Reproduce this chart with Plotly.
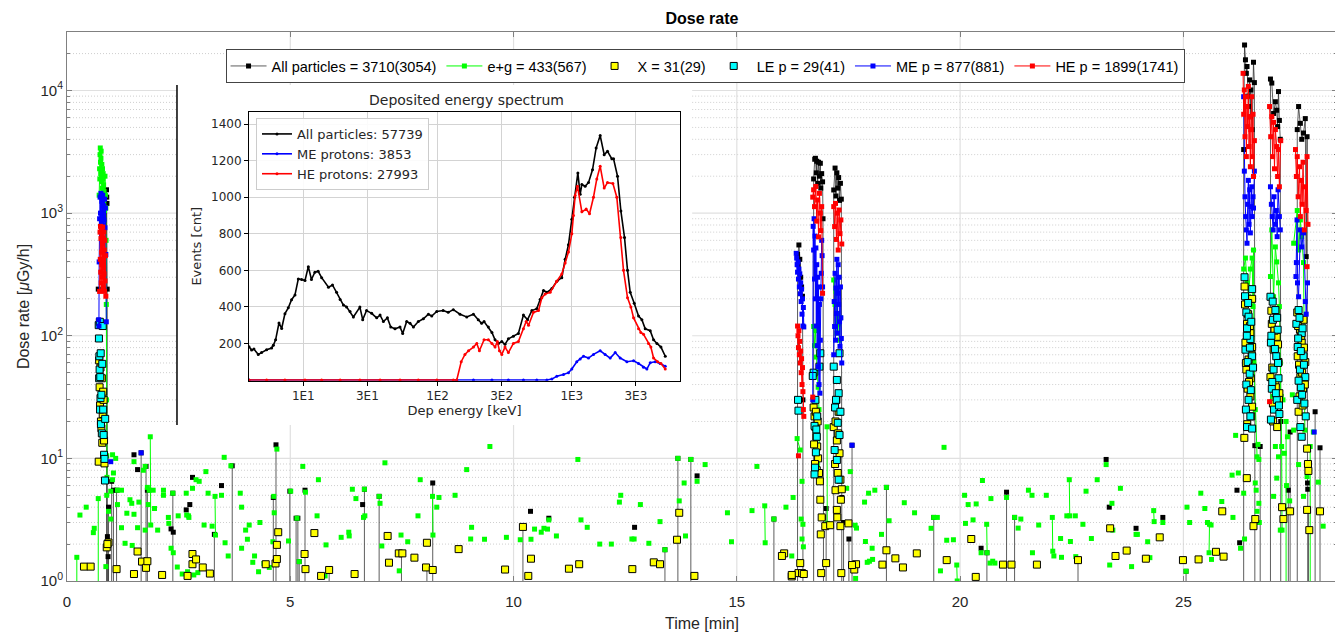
import plotly.graph_objects as go

# ------------------------------------------------------------------
# Main chart data: (time [min], dose rate [uGy/h])
# ------------------------------------------------------------------
FLOOR = 0.1  # readings that fall below the bottom of the axis

# All particles: burst segments (line drops below axis at both ends)
ALL_BURSTS = [
    [(0.885, 1550), (0.89, 1350), (0.895, 1200), (0.90, 240), (0.905, 2.3)],
    [(16.36, 460), (16.37, 380), (16.39, 550), (16.41, 420), (16.43, 300), (16.45, 250), (16.47, 210), (16.48, 30)],
    [(16.72, 1900), (16.745, 2750), (16.76, 2800), (16.78, 2130), (16.79, 2650), (16.81, 1750), (16.83, 2600),
     (16.85, 2000), (16.87, 2550), (16.88, 1600), (16.90, 2100), (16.92, 1800), (16.93, 900), (16.94, 3.3)],
    [(17.17, 1545), (17.20, 2330), (17.22, 1380), (17.24, 2130), (17.26, 1600), (17.28, 1950), (17.30, 1270),
     (17.32, 1750), (17.34, 1300), (17.35, 4.8)],
    [(26.35, 3300), (26.37, 23500), (26.39, 17800), (26.41, 13800), (26.425, 15700), (26.44, 9000), (26.46, 7400),
     (26.485, 12200), (26.50, 6100), (26.51, 10100), (26.54, 4800), (26.57, 17000), (26.59, 11600), (26.60, 12.7)],
    [(26.95, 12400), (26.98, 11500), (27.02, 6500), (27.06, 8100), (27.09, 6900), (27.11, 5080), (27.13, 9800),
     (27.15, 5700), (27.17, 4000), (27.18, 20)],
    [(27.55, 4800), (27.58, 7400), (27.62, 5400), (27.65, 4000), (27.69, 4500), (27.73, 5900), (27.75, 442),
     (27.77, 4200), (27.78, 6.3), (27.785, 5.6)],
]
# All particles: single readings whose neighbours are below the axis
ALL_SPIKES = [
    (0.92, 1.58), (0.93, 4.0), (1.00, 6.5), (1.04, 5.5), (1.11, 5.5), (1.66, 11.1), (1.77, 8.6), (1.80, 5.5),
    (2.37, 5.2), (3.30, 2.4), (3.70, 8.7), (4.62, 4.8), (4.68, 12.9), (4.99, 5.4), (5.13, 3.25), (5.17, 3.25),
    (5.20, 1.44), (5.33, 5.5), (5.87, 1.23), (6.66, 5.6), (6.99, 4.9), (7.49, 1.68), (8.06, 1.29), (8.19, 6.3),
    (10.21, 2.76), (13.39, 1.8), (13.68, 10.0), (13.97, 9.8), (15.83, 3.2), (17.00, 3.9), (17.39, 3.0),
    (17.51, 2.2), (17.58, 12.8), (18.35, 5.8), (19.41, 3.3), (20.60, 1.7), (21.04, 5.3), (21.22, 3.3),
    (22.64, 1.48), (25.06, 1.2), (26.72, 12.5), (27.35, 5.5), (27.39, 16.4), (27.80, 3.8), (27.95, 24),
    (28.06, 12.2),
]
ALL_DOTS = [
    (0.70, 240), (1.50, 10.7), (1.58, 8.1), (2.33, 2.66), (2.38, 2.5), (2.67, 3.8), (2.75, 4.2), (2.81, 7.0),
    (3.46, 6.0), (6.62, 4.2), (10.38, 3.7), (10.79, 3.25), (12.71, 2.74), (14.11, 7.2), (20.47, 1.85),
    (23.27, 9.8), (23.34, 4.0), (23.94, 2.69), (24.54, 3.3), (26.20, 5.5), (26.26, 2.05),
]

# e+g (green)
EG_SEGMENTS = [
    [(0.72, 1400), (0.73, 2300), (0.735, 1900), (0.74, 3000), (0.745, 3400), (0.75, 2600), (0.755, 2100),
     (0.76, 2800), (0.765, 3200), (0.77, 2200), (0.775, 1800), (0.78, 2500), (0.785, 2000), (0.79, 1600),
     (0.795, 2300), (0.80, 1900), (0.805, 1500), (0.81, 2100), (0.815, 1300), (0.82, 1700), (0.825, 1200),
     (0.83, 1500), (0.84, 1050), (0.85, 2000), (0.86, 1400), (0.87, 1100), (0.875, 600), (0.88, 180),
     (0.885, 30), (0.89, 10.5), (0.895, 7.0)],
    [(1.865, 15.0), (1.875, 2.86)],
    [(3.315, 4.9), (3.325, 2.37)],
    [(8.185, 4.9), (8.195, 2.37)],
    [(15.625, 4.1), (15.635, 2.05)],
    [(16.35, 14.5), (16.42, 11.7)],
    [(16.72, 119), (16.74, 83), (16.76, 110), (16.78, 67), (16.80, 50), (16.82, 38), (16.84, 25), (16.85, 7.3),
     (16.87, 7.6)],
    [(17.02, 18.1), (17.025, 2.95)],
    [(17.17, 285), (17.20, 180), (17.22, 230), (17.24, 105), (17.26, 152), (17.28, 125), (17.30, 92), (17.32, 140)],
    [(19.925, 1.35), (19.935, 1.0)],
    [(20.595, 2.9), (20.605, 1.7)],
    [(22.065, 3.3), (22.075, 1.75)],
    [(22.445, 6.7), (22.455, 3.4)],
    [(24.335, 3.75), (24.345, 3.05)],
    [(25.575, 1.7), (25.585, 2.9)],
    [(26.35, 350), (26.39, 430), (26.425, 270), (26.46, 208), (26.50, 350), (26.54, 430), (26.56, 173),
     (26.57, 500), (26.58, 61), (26.61, 25), (26.65, 10.3), (26.69, 9.8)],
    [(26.95, 304), (26.98, 730), (27.02, 208), (27.06, 530), (27.09, 400), (27.13, 270), (27.15, 173),
     (27.17, 60), (27.19, 32), (27.20, 12.5), (27.21, 2.6)],
    [(27.47, 568), (27.55, 1050), (27.58, 500), (27.62, 880), (27.65, 643), (27.69, 395), (27.71, 60), (27.72, 17)],
]
EG_SPIKES = [(0.22, 1.56), (0.70, 4.7), (27.30, 20), (27.84, 12.5)]
EG_DOTS = [
    (0.29, 3.45), (0.43, 4.0), (0.59, 2.48), (0.61, 2.69), (0.87, 1.31), (0.89, 5.0), (0.93, 3.7), (0.98, 3.2),
    (0.98, 5.4), (1.02, 6.7), (1.04, 7.6), (1.02, 10.7), (1.09, 10.0), (1.13, 5.5), (1.22, 5.5), (1.13, 4.2),
    (1.22, 2.72), (1.30, 2.03), (1.34, 3.57), (1.41, 4.6), (1.45, 4.3), (1.46, 1.95), (1.50, 9.4), (1.50, 3.5),
    (1.58, 2.72), (1.61, 4.4), (1.71, 8.0), (1.75, 8.6), (1.75, 2.6), (1.80, 5.8), (1.82, 4.2), (1.84, 5.5),
    (1.93, 5.5), (1.96, 3.9), (2.03, 2.6), (2.16, 5.5), (2.16, 5.0), (2.27, 3.3), (2.28, 2.95), (2.33, 1.85),
    (2.38, 1.70), (2.37, 5.2), (2.47, 1.3), (2.49, 3.4), (2.58, 1.14), (2.70, 1.19), (2.84, 1.12), (2.67, 5.2),
    (2.68, 3.45), (2.72, 3.4), (2.73, 3.3), (2.81, 5.7), (2.89, 6.7), (2.96, 6.5), (2.93, 1.17), (3.07, 2.86),
    (3.11, 7.8), (3.16, 5.2), (3.25, 2.8), (3.46, 5.0), (3.52, 10.2), (3.54, 2.05), (3.61, 1.60), (3.67, 8.7),
    (3.88, 5.2), (3.91, 1.85), (3.91, 4.0), (4.00, 2.6), (4.04, 2.19), (4.08, 2.86), (4.16, 1.42), (4.20, 1.60),
    (4.29, 1.19), (4.32, 3.0), (4.41, 1.39), (4.53, 1.29), (4.61, 2.09), (4.63, 4.9), (4.64, 3.6), (4.70, 11.9),
    (4.96, 2.12), (5.01, 5.4), (5.15, 3.25), (5.20, 1.44), (5.28, 8.6), (5.34, 5.3), (5.60, 3.4), (5.63, 6.7),
    (5.78, 1.10), (5.80, 1.97), (6.14, 2.27), (6.31, 2.5), (6.32, 2.33), (6.39, 5.6), (6.47, 4.7), (6.64, 3.3),
    (6.66, 5.6), (6.67, 3.4), (6.99, 4.9), (7.01, 4.3), (7.05, 1.93), (7.12, 9.2), (7.44, 1.21), (7.48, 2.37),
    (7.63, 2.09), (7.86, 3.4), (7.91, 6.7), (8.28, 4.0), (8.33, 4.8), (8.69, 5.0), (8.95, 8.1), (9.04, 2.2),
    (9.06, 2.74), (9.35, 2.19), (9.47, 12.5), (9.84, 2.27), (10.15, 2.17), (10.39, 2.19), (10.47, 2.65),
    (10.62, 2.5), (10.68, 2.69), (10.76, 2.65), (10.79, 3.15), (10.96, 2.33), (11.44, 9.8), (11.51, 3.15),
    (11.65, 2.74), (11.93, 2.0), (12.19, 2.0), (12.40, 5.0), (12.37, 4.4), (12.65, 2.2), (12.70, 2.2),
    (12.84, 4.2), (13.03, 2.03), (13.28, 3.05), (13.39, 1.8), (13.68, 10.0), (13.71, 4.5), (13.82, 6.3),
    (13.85, 2.33), (13.97, 9.8), (14.11, 6.5), (14.29, 8.9), (14.79, 3.6), (14.88, 2.09), (15.34, 3.75),
    (15.45, 8.6), (15.83, 3.2), (16.10, 4.0), (16.26, 4.8), (16.46, 6.5), (16.44, 3.2), (16.48, 2.9),
    (16.46, 2.2), (16.49, 1.9), (16.23, 1.6), (17.54, 7.8), (17.46, 5.7), (17.65, 2.85), (17.68, 2.7),
    (17.66, 1.05), (17.86, 4.4), (17.88, 2.1), (17.95, 5.2), (18.09, 5.5), (18.03, 1.85), (17.97, 1.45),
    (17.92, 1.42), (18.04, 1.5), (18.24, 2.4), (18.35, 5.8), (18.41, 3.1), (18.75, 4.35), (18.98, 3.6),
    (19.35, 2.69), (19.41, 3.3), (19.49, 3.3), (19.56, 1.21), (19.64, 12.3), (19.70, 2.15), (19.85, 2.17),
    (20.10, 5.0), (20.12, 2.95), (20.18, 4.2), (20.36, 4.25), (20.29, 3.15), (20.47, 1.7), (20.50, 6.6),
    (20.69, 4.7), (20.67, 1.4), (20.73, 1.45), (20.78, 1.4), (21.04, 4.8), (21.22, 3.3), (21.30, 2.7),
    (21.36, 3.2), (21.53, 5.5), (21.61, 5.0), (21.62, 1.7), (21.76, 2.86), (21.93, 5.0), (22.10, 1.6),
    (22.25, 2.22), (22.27, 1.56), (22.39, 3.4), (22.58, 3.4), (22.47, 2.1), (22.59, 1.58), (22.75, 2.9),
    (22.82, 5.4), (22.94, 2.22), (23.07, 6.7), (23.27, 8.9), (23.35, 1.35), (23.40, 4.3), (23.42, 2.6),
    (23.59, 5.7), (23.84, 1.31), (23.94, 2.4), (23.97, 2.4), (24.20, 2.09), (24.25, 1.55), (24.54, 3.0),
    (25.08, 4.0), (25.06, 1.2), (25.14, 3.0), (25.39, 5.2), (25.48, 3.9), (25.54, 3.0), (25.62, 2.86),
    (25.63, 1.5), (25.86, 4.45), (26.11, 3.3), (26.23, 7.6), (26.37, 2.2), (26.28, 1.85), (26.09, 7.3),
    (26.17, 15.4), (26.35, 5.2), (26.61, 6.3), (26.69, 4.3), (26.65, 3.7), (26.63, 5.5), (26.70, 3.0),
    (26.67, 13), (27.06, 12.5), (27.13, 10.3), (27.02, 4.9), (27.09, 6.9), (27.17, 2.6), (27.005, 32),
    (27.23, 30), (27.26, 11), (27.31, 6), (27.33, 15), (27.38, 4.5), (27.44, 33), (27.47, 17), (27.58, 8.9),
    (27.77, 7.1), (27.69, 4.9), (27.91, 16.4), (28.02, 6.4), (28.13, 2.8),
]

# X (yellow squares)
X_PTS = [
    (0.38, 1.31), (0.53, 1.31), (0.89, 1.88), (0.93, 2.06), (1.11, 1.25), (1.50, 1.14), (1.58, 1.74), (1.68, 1.44),
    (1.77, 1.28), (1.80, 1.45), (2.13, 1.12), (2.70, 1.10), (2.81, 1.66), (2.81, 1.37), (2.89, 1.5), (3.04, 1.29),
    (3.20, 1.15), (4.45, 1.37), (4.67, 1.39), (4.70, 1.97), (4.70, 1.51), (4.73, 2.5), (5.32, 1.66), (5.34, 1.25),
    (5.54, 2.46), (5.69, 1.10), (5.87, 1.23), (6.44, 1.14), (7.18, 2.33), (7.21, 1.41), (7.43, 1.68), (7.51, 1.68),
    (7.78, 1.55), (8.04, 1.29), (8.06, 2.05), (8.19, 1.23), (8.77, 1.82), (9.81, 1.24), (10.21, 2.76), (10.39, 1.52),
    (10.33, 1.1), (11.24, 1.26), (11.47, 1.37), (12.66, 1.25), (13.14, 1.42), (13.28, 1.37), (13.66, 2.17),
    (13.71, 3.6), (14.05, 1.1), (16.06, 1.68), (16.23, 1.09), (17.63, 1.24), (17.67, 1.37), (18.35, 1.78),
    (18.26, 1.36), (18.55, 1.53), (18.72, 1.29), (19.03, 1.68), (19.70, 1.48), (20.25, 2.2), (20.35, 1.08),
    (20.96, 1.36), (21.15, 1.36), (21.72, 1.36), (22.64, 1.48), (23.36, 2.69), (23.48, 1.6), (23.73, 1.77),
    (24.16, 1.52), (24.47, 2.27), (24.99, 1.48), (25.34, 1.5), (25.73, 1.73), (25.90, 1.58), (25.87, 3.7),
    (26.42, 6.9),
    # burst A
    (0.71, 9.4), (0.72, 63), (0.73, 38), (0.74, 27), (0.75, 55), (0.76, 20), (0.77, 17.6), (0.78, 45), (0.79, 13.4),
    (0.80, 23), (0.81, 35), (0.82, 30), (0.83, 14), (0.84, 9.1), (0.905, 2.0),
    # bursts B, C, D
    (16.42, 1.4), (16.38, 1.16), (16.46, 1.16), (16.50, 1.14), (16.23, 1.12), (16.01, 1.6),
    (16.72, 26), (16.74, 22), (16.76, 18), (16.78, 15), (16.80, 12.5), (16.82, 10), (16.75, 9), (16.79, 8),
    (16.84, 7.6), (16.86, 6.5), (16.87, 4.6), (16.90, 3.3), (16.88, 2.4), (16.98, 2.8), (17.09, 2.85),
    (17.00, 1.4), (16.89, 1.16), (16.77, 24), (16.81, 20), (16.73, 13),
    (17.23, 30), (17.28, 24), (17.17, 18), (17.24, 14), (17.30, 11), (17.20, 9), (17.26, 7.6), (17.32, 6.7),
    (17.21, 5.5), (17.35, 5.6), (17.33, 4.6), (17.24, 3.8), (17.25, 3.3), (17.32, 2.8), (17.50, 2.95),
    (17.58, 1.35), (17.34, 1.16), (17.21, 20), (17.27, 16),
    # bursts E, F, G
    (26.37, 252), (26.54, 200), (26.425, 125), (26.50, 105), (26.39, 88), (26.54, 81), (26.46, 64), (26.41, 53),
    (26.51, 45), (26.44, 37), (26.50, 32), (26.54, 26.4), (26.365, 14.7), (26.61, 3.2), (26.57, 2.8),
    (26.38, 180), (26.45, 150), (26.49, 120), (26.53, 70), (26.40, 60), (26.47, 42), (26.52, 22), (26.43, 19),
    (26.98, 125), (27.09, 98), (27.02, 77), (27.13, 61), (26.95, 46), (27.06, 41), (27.15, 34), (27.005, 28),
    (27.21, 4.0), (27.39, 3.7), (27.24, 3.2),
    (26.97, 160), (27.04, 110), (27.12, 85), (26.99, 55), (27.07, 38), (27.14, 30), (27.01, 20), (27.10, 18),
    (27.55, 155), (27.69, 135), (27.61, 112), (27.65, 88), (27.56, 68), (27.73, 61), (27.62, 46), (27.68, 37),
    (27.58, 24), (27.77, 12), (27.79, 9), (27.80, 7.9), (27.77, 3.8), (27.82, 2.6), (28.06, 3.7),
    (27.57, 120), (27.64, 100), (27.70, 80), (27.59, 58), (27.66, 50), (27.72, 40), (27.60, 32), (27.67, 27),
]

# LE p (cyan squares)
LE_PTS = [
    (0.71, 122), (0.715, 95), (0.72, 45), (0.725, 68), (0.73, 53), (0.735, 130), (0.74, 25), (0.745, 46),
    (0.75, 31), (0.755, 72), (0.76, 19), (0.77, 33), (0.78, 16), (0.79, 59), (0.80, 120), (0.81, 25),
    (0.82, 15.5), (0.83, 10.7), (0.84, 9.9), (0.85, 6.6), (0.855, 21),
    (16.37, 30), (16.38, 24.5),
    (16.72, 50), (16.70, 47), (16.76, 30), (16.74, 18.4), (16.78, 17.2), (16.77, 11.2), (16.75, 8.4),
    (16.74, 7.4), (16.79, 15), (16.87, 72), (16.85, 56), (16.80, 22),
    (17.30, 72), (17.17, 56), (17.24, 43.6), (17.28, 34), (17.20, 26), (17.26, 19.5), (17.30, 15.5),
    (17.19, 11.7), (17.24, 9.7), (17.28, 6.7), (17.22, 30), (17.32, 24),
    (26.37, 300), (26.54, 240), (26.41, 155), (26.46, 143), (26.425, 115), (26.50, 94), (26.39, 77),
    (26.54, 68), (26.44, 61), (26.485, 49), (26.41, 40), (26.51, 36), (26.46, 30), (26.425, 18), (26.54, 17.5),
    (26.38, 210), (26.45, 185), (26.52, 130), (26.42, 100), (26.49, 80), (26.56, 55), (26.40, 25), (26.50, 22),
    (26.95, 208), (27.06, 162), (27.005, 135), (27.11, 112), (26.96, 88), (27.08, 68), (27.02, 53),
    (27.13, 45), (26.98, 37), (27.09, 30), (27.03, 25), (26.96, 20.7), (27.15, 23),
    (27.00, 190), (27.10, 140), (26.97, 100), (27.05, 78), (27.12, 60), (26.99, 42), (27.07, 34), (27.14, 27),
    (27.58, 162), (27.53, 125), (27.65, 105), (27.56, 81), (27.69, 68), (27.61, 53), (27.73, 46),
    (27.63, 38), (27.55, 30), (27.71, 28), (27.62, 18), (27.65, 15),
    (27.60, 140), (27.67, 115), (27.57, 95), (27.63, 75), (27.70, 58), (27.58, 43), (27.66, 33), (27.74, 22),
]

# ME p (blue)
ME_SEGMENTS = [
    [(0.71, 135), (0.715, 120), (0.72, 400), (0.73, 900), (0.74, 1350), (0.75, 1000), (0.76, 1450), (0.77, 850),
     (0.78, 1250), (0.79, 950), (0.80, 1400), (0.81, 800), (0.82, 1150), (0.83, 880), (0.84, 1300), (0.85, 760),
     (0.86, 1100), (0.87, 460), (0.88, 130)],
    [(16.33, 470), (16.34, 430), (16.35, 380), (16.36, 330), (16.37, 400), (16.38, 290), (16.39, 350),
     (16.40, 250), (16.41, 320), (16.42, 220), (16.43, 270), (16.44, 190), (16.45, 240), (16.46, 150),
     (16.47, 200), (16.48, 120), (16.49, 170), (16.50, 118)],
    [(16.70, 30), (16.71, 780), (16.72, 500), (16.73, 900), (16.74, 290), (16.75, 650), (16.76, 200),
     (16.77, 520), (16.78, 120), (16.79, 380), (16.80, 83), (16.81, 300), (16.82, 56), (16.83, 250),
     (16.84, 40), (16.85, 180), (16.86, 34), (16.87, 92), (16.88, 200), (16.89, 323), (16.90, 600),
     (16.91, 450), (16.92, 250)],
    [(17.17, 70), (17.18, 190), (17.19, 119), (17.20, 323), (17.21, 92), (17.22, 245), (17.23, 152),
     (17.24, 420), (17.25, 105), (17.26, 222), (17.27, 380), (17.28, 180), (17.29, 300), (17.30, 130),
     (17.31, 82), (17.32, 250), (17.33, 140), (17.34, 95), (17.35, 60)],
    [(26.35, 8900), (26.365, 2200), (26.38, 1360), (26.395, 937), (26.41, 730), (26.425, 568), (26.44, 1180),
     (26.455, 1850), (26.47, 810), (26.485, 1550), (26.50, 690), (26.51, 1130), (26.53, 1640), (26.54, 937),
     (26.56, 1360), (26.57, 1100), (26.59, 2200)],
    [(26.95, 1640), (26.97, 1180), (26.99, 937), (27.01, 730), (27.03, 1360), (27.06, 810), (27.08, 1050),
     (27.10, 643), (27.12, 1550), (27.15, 937), (27.17, 730)],
    [(27.52, 304), (27.53, 395), (27.545, 880), (27.555, 270), (27.58, 208), (27.62, 730), (27.65, 530),
     (27.69, 690), (27.73, 190), (27.75, 150), (27.78, 270)],
]
ME_DOTS = [(0.98, 9.4), (1.66, 11.1), (17.58, 12.8), (27.93, 16.4)]

# HE p (red)
HE_SEGMENTS = [
    [(0.73, 230), (0.74, 700), (0.745, 420), (0.75, 780), (0.755, 330), (0.76, 620), (0.765, 270), (0.77, 720),
     (0.775, 480), (0.78, 380), (0.785, 650), (0.79, 300), (0.795, 560), (0.80, 770), (0.805, 410), (0.81, 250),
     (0.815, 630), (0.82, 360), (0.825, 700), (0.83, 320), (0.835, 500), (0.84, 230), (0.845, 600), (0.85, 280),
     (0.86, 450), (0.87, 210)],
    [(16.36, 120), (16.37, 100), (16.38, 80), (16.39, 110), (16.40, 70), (16.41, 90), (16.42, 60), (16.43, 75),
     (16.44, 50), (16.45, 65), (16.46, 40), (16.47, 55), (16.48, 35), (16.49, 25), (16.50, 22)],
    [(16.70, 1350), (16.72, 1550), (16.74, 1130), (16.77, 1650), (16.79, 860), (16.81, 1280), (16.83, 640),
     (16.85, 1450), (16.87, 1000), (16.88, 720), (16.90, 1130), (16.92, 222)],
    [(17.17, 1130), (17.19, 777), (17.21, 1200), (17.23, 610), (17.25, 1000), (17.27, 500), (17.29, 1060),
     (17.31, 680), (17.33, 880), (17.35, 560)],
    [(26.337, 13800), (26.35, 6400), (26.365, 10100), (26.38, 4200), (26.395, 8900), (26.41, 2890),
     (26.425, 7400), (26.44, 5080), (26.455, 10800), (26.47, 3490), (26.485, 6120), (26.50, 2390),
     (26.51, 4800), (26.53, 8900), (26.54, 2890), (26.56, 6400), (26.57, 1990), (26.59, 3900)],
    [(26.93, 7400), (26.955, 4200), (26.98, 6120), (26.998, 2890), (27.02, 5500), (27.04, 2300), (27.06, 4800),
     (27.09, 3490), (27.11, 1990), (27.13, 3300), (27.15, 1640), (27.18, 3900)],
    [(27.51, 3300), (27.53, 1990), (27.55, 2890), (27.57, 1360), (27.60, 2390), (27.62, 937), (27.64, 1850),
     (27.66, 1180), (27.68, 2600), (27.71, 730), (27.73, 1640), (27.75, 1050), (27.77, 2890), (27.79, 810)],
]
HE_DOTS = [(16.38, 10.5), (16.70, 31.6), (26.93, 29), (27.77, 366)]

LEGEND_NAMES = ["All particles = 3710(3054)", "e+g = 433(567)", "X = 31(29)",
                "LE p = 29(41)", "ME p = 877(881)", "HE p = 1899(1741)"]

# ------------------------------------------------------------------
# Inset: deposited energy spectrum (energy [keV], events [cnt])
# ------------------------------------------------------------------
SPEC_ALL_E = [3.94, 4.12, 4.29, 4.62, 4.89, 5.33, 5.81, 5.98, 6.22, 6.59,
              6.90, 7.30, 7.73, 8.18, 8.67, 9.18, 9.72, 10.3, 10.9, 11.5,
              12.2, 12.9, 13.7, 15.4, 16.5, 17.7, 18.8, 19.9, 21.0, 22.3,
              23.6, 26.4, 27.7, 29.6, 32.3, 35.2, 37.3, 39.5, 42.3, 44.8,
              48.2, 52.5, 55.0, 58.9, 62.4, 66.1, 71.9, 78.4, 85.5, 90.5,
              98.6, 110, 120, 131, 147, 165, 185, 201, 213, 222,
              239, 254, 268, 284, 301, 318, 337, 367, 400, 436,
              468, 504, 548, 581, 615, 652, 710, 773, 842, 892,
              944, 1000, 1047, 1109, 1154, 1188, 1257, 1331, 1426, 1518,
              1626, 1742, 1844, 1987, 2046, 2190, 2319, 2469, 2600, 2722,
              2916, 3141, 3326, 3521, 3837, 4064, 4305, 4613, 4966]
SPEC_ALL_C = [182, 164, 169, 140, 150, 165, 175, 190, 220, 312,
              282, 363, 395, 439, 465, 553, 550, 545, 620, 550,
              590, 595, 560, 508, 520, 480, 440, 410, 400, 375,
              345, 399, 330, 380, 365, 340, 355, 320, 340, 290,
              280, 290, 255, 320, 310, 290, 320, 335, 360, 350,
              375, 380, 370, 385, 360, 345, 360, 330, 310, 320,
              290, 260, 220, 200, 210, 195, 225, 240, 255, 355,
              330, 380, 390, 440, 490, 480, 500, 540, 560, 660,
              740, 880, 1000, 1133, 1016, 1070, 1060, 1080, 1150, 1270,
              1338, 1233, 1251, 1210, 1210, 1115, 925, 780, 600, 480,
              420, 350, 330, 280, 270, 220, 200, 180, 130]
SPEC_ME_E = [3.94, 139, 185, 254, 337, 436, 548, 652, 710, 773, 867, 944, 1000, 1089, 1154, 1222, 1331, 1450,
             1626, 1770, 1931, 2105, 2293, 2570, 2884, 3141, 3420, 3622, 3837, 4178, 4550, 4966]
SPEC_ME_C = [0, 0, 0, 0, 0, 0, 0, 0, 5, 20, 30, 40, 60, 100, 115, 130, 120, 140,
             160, 140, 120, 150, 120, 100, 105, 90, 70, 60, 95, 100, 90, 75]
SPEC_HE_E = [3.94, 5.33, 7.30, 10.3, 13.7, 18.8, 26.4, 37.3, 52.5, 71.9,
             98.6, 131, 139, 150, 160, 170, 185, 196, 205, 222,
             239, 254, 268, 279, 289, 301, 318, 337, 367, 400,
             436, 457, 476, 518, 565, 598, 633, 690, 773, 842,
             892, 944, 1000, 1028, 1059, 1102, 1188, 1280, 1355, 1450,
             1535, 1626, 1742, 1844, 2023, 2163, 2319, 2427, 2600, 2754,
             2884, 3141, 3266, 3420, 3724, 3880, 4064, 4355, 4613, 4966]
SPEC_HE_C = [0, 0, 0, 0, 0, 0, 0, 0, 0, 0,
             0, 0, 0, 100, 140, 160, 180, 200, 160, 220,
             220, 200, 180, 210, 160, 140, 180, 150, 200, 210,
             280, 320, 300, 370, 380, 450, 470, 480, 540, 580,
             640, 700, 800, 900, 1010, 1060, 920, 935, 910, 1000,
             1100, 1170, 1050, 1080, 1075, 1000, 780, 600, 450, 400,
             340, 280, 260, 250, 200, 180, 120, 100, 90, 60]
SPEC_NAMES = ["All particles: 57739", "ME protons: 3853", "HE protons: 27993"]
SPEC_XTICKS = [10, 30, 100, 300, 1000, 3000]
SPEC_XTICKTEXT = ["1E1", "3E1", "1E2", "3E2", "1E3", "3E3"]
SPEC_YTICKS = [200, 400, 600, 800, 1000, 1200, 1400]

# ------------------------------------------------------------------
FONT = "Liberation Sans, Arial, Helvetica, sans-serif"
IFONT = "DejaVu Sans, Verdana, sans-serif"
XMAX = 28.44
YMAX = 3e4

# the page body adds an 8px offset, so the figure is 8px smaller
FIG_W, FIG_H = 1335, 626

# area covered by the pasted inset picture (main-axis units)
GAP_X0, GAP_X1 = 2.463, 14.0
GAP_Y0, GAP_Y1 = 18.7, 11090


def pts_xy(pts):
    return [p[0] for p in pts], [p[1] for p in pts]


def segs_xy(segs, drop=False):
    xs, ys = [], []
    for s in segs:
        if drop:
            xs.append(s[0][0]); ys.append(FLOOR)
        for t, v in s:
            xs.append(t); ys.append(v)
        if drop:
            xs.append(s[-1][0]); ys.append(FLOOR)
        xs.append(None); ys.append(None)
    return xs, ys


def spikes_xy(spk):
    xs, ys = [], []
    for t, v in spk:
        xs += [t, t, None]
        ys += [v, FLOOR, None]
    return xs, ys


fig = go.Figure()

# ---- main grid (drawn as traces so it can stop at the inset picture)
major_y = [10, 100, 1000, 10000]
minor_y = [m * 10 ** k for k in range(0, 5) for m in range(2, 10) if m * 10 ** k < YMAX]
major_x = [5, 10, 15, 20, 25]


def hlines(vals):
    xs, ys = [], []
    for g in vals:
        if GAP_Y0 <= g <= GAP_Y1:
            xs += [0, GAP_X0, None, GAP_X1, XMAX, None]
            ys += [g, g, None, g, g, None]
        else:
            xs += [0, XMAX, None]
            ys += [g, g, None]
    return xs, ys


gx, gy = hlines(major_y)
for t in major_x:
    if GAP_X0 <= t <= GAP_X1:
        gx += [t, t, None, t, t, None]
        gy += [1, GAP_Y0, None, GAP_Y1, YMAX, None]
    else:
        gx += [t, t, None]
        gy += [1, YMAX, None]
mx, my = hlines(minor_y)
fig.add_trace(go.Scatter(x=gx, y=gy, mode="lines", line=dict(color="#e0e0e0", width=1.2),
                         hoverinfo="skip", showlegend=False))
fig.add_trace(go.Scatter(x=mx, y=my, mode="lines", line=dict(color="#cfcfcf", width=1, dash="1px,2px"),
                         hoverinfo="skip", showlegend=False))

MS = 5   # marker size of line series
BS = 7   # marker size of boxed squares

# ---- All particles
bx, by = segs_xy(ALL_BURSTS, drop=True)
sx, sy = spikes_xy(ALL_SPIKES)
fig.add_trace(go.Scatter(x=bx + sx, y=by + sy, mode="lines+markers", name=LEGEND_NAMES[0],
                         legendgroup="all", line=dict(color="rgba(40,40,40,0.75)", width=1),
                         marker=dict(symbol="square", size=MS, color="black")))
dx, dy = pts_xy(ALL_DOTS)
fig.add_trace(go.Scatter(x=dx, y=dy, mode="markers", showlegend=False, legendgroup="all",
                         marker=dict(symbol="square", size=MS, color="black")))

# ---- e+g
ex, ey = segs_xy(EG_SEGMENTS)
sx, sy = spikes_xy(EG_SPIKES)
fig.add_trace(go.Scatter(x=ex + sx, y=ey + sy, mode="lines+markers", name=LEGEND_NAMES[1], legendgroup="eg",
                         line=dict(color="#00ff00", width=1),
                         marker=dict(symbol="square", size=MS, color="#00ff00")))
dx, dy = pts_xy(EG_DOTS)
fig.add_trace(go.Scatter(x=dx, y=dy, mode="markers", showlegend=False, legendgroup="eg",
                         marker=dict(symbol="square", size=MS, color="#00ff00")))

# ---- X
dx, dy = pts_xy(X_PTS)
fig.add_trace(go.Scatter(x=dx, y=dy, mode="markers", name=LEGEND_NAMES[2],
                         marker=dict(symbol="square", size=BS, color="#ffff00",
                                     line=dict(color="black", width=1))))
# ---- LE p
dx, dy = pts_xy(LE_PTS)
fig.add_trace(go.Scatter(x=dx, y=dy, mode="markers", name=LEGEND_NAMES[3],
                         marker=dict(symbol="square", size=BS, color="#00ffff",
                                     line=dict(color="black", width=1))))
# ---- ME p
ex, ey = segs_xy(ME_SEGMENTS)
fig.add_trace(go.Scatter(x=ex, y=ey, mode="lines+markers", name=LEGEND_NAMES[4], legendgroup="me",
                         line=dict(color="#0000ff", width=1),
                         marker=dict(symbol="square", size=MS, color="#0000ff")))
dx, dy = pts_xy(ME_DOTS)
fig.add_trace(go.Scatter(x=dx, y=dy, mode="markers", showlegend=False, legendgroup="me",
                         marker=dict(symbol="square", size=MS, color="#0000ff")))
# ---- HE p
ex, ey = segs_xy(HE_SEGMENTS)
fig.add_trace(go.Scatter(x=ex, y=ey, mode="lines+markers", name=LEGEND_NAMES[5], legendgroup="he",
                         line=dict(color="#ff0000", width=1),
                         marker=dict(symbol="square", size=MS, color="#ff0000")))
dx, dy = pts_xy(HE_DOTS)
fig.add_trace(go.Scatter(x=dx, y=dy, mode="markers", showlegend=False, legendgroup="he",
                         marker=dict(symbol="square", size=MS, color="#ff0000")))

# ---- inset spectrum
for e, c, name, col in [(SPEC_ALL_E, SPEC_ALL_C, SPEC_NAMES[0], "#000000"),
                        (SPEC_ME_E, SPEC_ME_C, SPEC_NAMES[1], "#0000ff"),
                        (SPEC_HE_E, SPEC_HE_C, SPEC_NAMES[2], "#ff0000")]:
    fig.add_trace(go.Scatter(x=e, y=c, xaxis="x2", yaxis="y2", mode="lines+markers", name=name,
                             legend="legend2", line=dict(color=col, width=1.6),
                             marker=dict(symbol="circle", size=3, color=col)))

axis_common = dict(showline=True, linecolor="#808080", linewidth=1, mirror="ticks", ticks="inside",
                   tickcolor="#808080", ticklen=5, showgrid=False, zeroline=False, automargin=False,
                   tickfont=dict(family=FONT, size=15, color="#262626"))

fig.update_layout(
    template="none",
    width=FIG_W, height=FIG_H, autosize=False,
    margin=dict(l=59, r=6, t=24, b=53, pad=0),
    paper_bgcolor="white", plot_bgcolor="white",
    font=dict(family=FONT, color="#262626"),
    showlegend=True,
    title=dict(text="<b>Dose rate</b>", x=0.5, xref="paper", xanchor="center",
               y=1 - 10 / FIG_H, yref="container", yanchor="middle",
               font=dict(family=FONT, size=16, color="#000")),
    xaxis=dict(range=[0, XMAX], tickvals=[0, 5, 10, 15, 20, 25], ticklabelstandoff=7,
               title=dict(text="Time [min]", font=dict(family=FONT, size=16), standoff=8),
               **axis_common),
    yaxis=dict(type="log", range=[0, 4.4771], tickvals=[1, 10, 100, 1000, 10000],
               ticktext=["10<sup>0</sup>", "10<sup>1</sup>", "10<sup>2</sup>", "10<sup>3</sup>", "10<sup>4</sup>"],
               minor=dict(tickvals=minor_y, ticks="inside", ticklen=3, tickcolor="#808080", showgrid=False),
               title=dict(text="Dose rate [<i>μ</i>Gy/h]", font=dict(family=FONT, size=16), standoff=6),
               **axis_common),
    xaxis2=dict(domain=[0.1433, 0.4827], anchor="y2", type="log", range=[0.5955, 3.806],
                tickvals=SPEC_XTICKS, ticktext=SPEC_XTICKTEXT, showgrid=True, gridcolor="#d3d3d3",
                ticks="outside", ticklen=4, tickcolor="#000", showline=True, linecolor="#000",
                mirror=True, zeroline=False, automargin=False,
                tickfont=dict(family=IFONT, size=12, color="#262626"),
                title=dict(text="Dep energy [keV]", font=dict(family=IFONT, size=13, color="#262626"),
                           standoff=3)),
    yaxis2=dict(domain=[0.3648, 0.8548], anchor="x2", range=[-4, 1468], tickvals=SPEC_YTICKS,
                showgrid=True, gridcolor="#d3d3d3", ticks="outside", ticklen=4, tickcolor="#000",
                showline=True, linecolor="#000", mirror=True, zeroline=False, automargin=False,
                tickfont=dict(family=IFONT, size=12, color="#262626"),
                title=dict(text="Events [cnt]", font=dict(family=IFONT, size=13, color="#262626"),
                           standoff=6)),
    legend=dict(orientation="h", x=0.5024, xanchor="center", y=0.969, yanchor="top",
                bgcolor="white", bordercolor="#444", borderwidth=1, tracegroupgap=0, itemwidth=36,
                font=dict(family=FONT, size=14.5, color="#000")),
    legend2=dict(x=0.1488, y=0.8434, xanchor="left", yanchor="top", bgcolor="rgba(255,255,255,0.9)",
                 bordercolor="#cccccc", borderwidth=1, tracegroupgap=0,
                 font=dict(family=IFONT, size=13, color="#262626")),
    annotations=[dict(text="Deposited energy spectrum", xref="paper", yref="paper", x=0.3142, y=0.8761,
                      xanchor="center", yanchor="middle", showarrow=False,
                      font=dict(family=IFONT, size=14, color="#262626"))],
    shapes=[dict(type="line", xref="paper", yref="paper", x0=0.0866, x1=0.0866, y0=0.2842, y1=0.9035,
                 line=dict(color="black", width=1.5))],
)

fig.write_html("out.html")
